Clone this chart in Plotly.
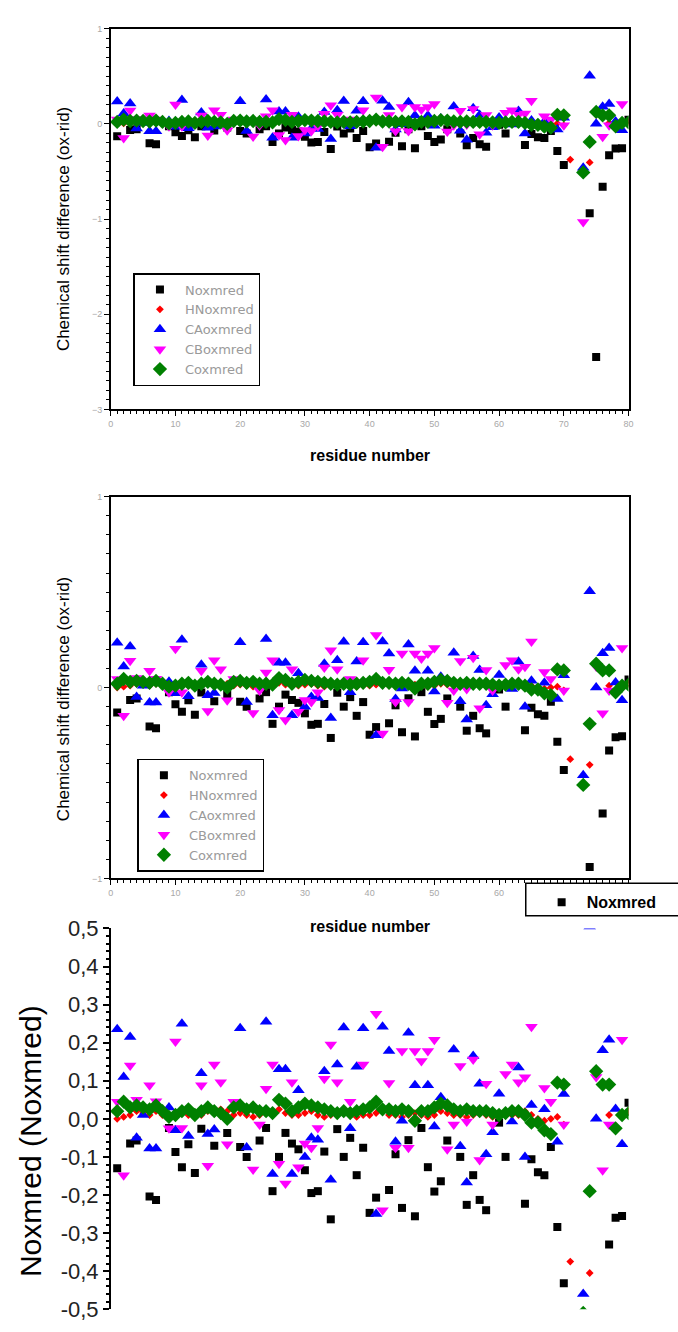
import plotly.graph_objects as go

# ---------------- data (residue 1..80) ----------------
residue = list(range(1, 81))

n_oxmred = [
    -0.13, None, -0.065, -0.057, None, -0.204, -0.213, None, -0.024, -0.087,
    -0.127, -0.067, -0.142, -0.026, None, -0.071, None, -0.037, None, -0.074,
    -0.10, None, -0.057, -0.024, -0.19, -0.10, -0.037, -0.065, -0.08, -0.135,
    -0.195, -0.19, -0.086, -0.264, -0.027, -0.10, -0.05, -0.148, -0.076, -0.247,
    -0.207, None, -0.187, -0.093, -0.234, -0.056, -0.256, -0.024, -0.127, -0.191,
    -0.164, -0.057, None, -0.10, -0.226, -0.148, -0.213, -0.24, None, -0.01,
    -0.10, None, None, -0.223, -0.106, -0.14, -0.148, -0.074, -0.284, -0.432,
    None, None, None, -0.94, -2.45, -0.66, -0.33, -0.26, -0.255, 0.042,
]

hn_oxmred = [
    0.00, 0.005, 0.01, 0.02, 0.015, 0.01, 0.02, 0.01, 0.005, 0.01,
    0.015, 0.01, 0.005, 0.01, 0.02, 0.015, 0.025, 0.02, 0.01, 0.015,
    0.01, 0.005, 0.01, 0.02, 0.02, 0.025, 0.015, 0.01, 0.01, 0.015,
    0.02, 0.01, 0.005, 0.01, 0.01, 0.015, 0.01, 0.005, 0.01, 0.01,
    0.015, 0.02, 0.01, 0.01, 0.005, 0.01, 0.015, 0.01, 0.005, 0.01,
    0.02, 0.015, 0.01, 0.01, 0.005, 0.01, 0.015, 0.01, 0.005, 0.01,
    0.015, 0.01, 0.01, 0.02, 0.01, 0.0, -0.005, 0.0, 0.005, -0.015,
    -0.375, None, None, -0.405, None, None, 0.01, None, 0.005, 0.02,
]

ca_oxmred = [
    0.235, 0.11, 0.215, -0.05, 0.01, -0.078, -0.078, None, 0.03, -0.03,
    0.25, -0.045, None, 0.12, -0.04, -0.028, None, None, None, 0.238,
    -0.075, None, None, 0.255, -0.145, 0.13, 0.13, -0.145, 0.075, -0.10,
    -0.05, -0.055, 0.125, -0.16, 0.143, 0.24, -0.025, 0.137, 0.238, None,
    -0.25, 0.242, 0.178, -0.06, -0.005, 0.226, 0.088, None, 0.088, -0.02,
    0.057, None, 0.182, -0.072, -0.167, 0.165, 0.092, -0.093, -0.035, 0.066,
    None, -0.007, 0.135, -0.10, 0.036, None, 0.025, None, -0.06, 0.065,
    None, None, -0.46, 0.505, 0.0, 0.18, 0.208, 0.026, -0.067, None,
]

cb_oxmred = [
    0.045, -0.148, 0.14, 0.05, None, 0.088, 0.046, None, -0.025, 0.203,
    -0.024, None, None, 0.088, -0.123, 0.143, 0.096, -0.067, 0.045, None,
    None, -0.133, -0.015, 0.079, 0.143, -0.118, -0.17, 0.096, -0.127, -0.065,
    -0.076, -0.024, 0.105, 0.195, 0.096, None, 0.045, None, 0.143, None,
    0.276, -0.24, 0.094, -0.076, 0.178, -0.076, 0.178, 0.152, 0.178, 0.208,
    None, -0.08, -0.015, 0.139, -0.007, 0.156, -0.108, 0.092, -0.015, None,
    0.118, 0.143, 0.096, 0.109, 0.242, None, 0.081, 0.045, None, -0.015,
    None, None, -1.03, None, 0.11, -0.135, -0.015, None, 0.208, None,
]

co_oxmred = [
    0.02, 0.045, 0.03, 0.035, 0.03, 0.025, 0.035, 0.02, 0.005, 0.01,
    0.02, 0.025, 0.01, 0.02, 0.03, 0.02, 0.015, 0.0, 0.03, 0.035,
    0.025, 0.03, 0.02, 0.02, 0.015, 0.05, 0.04, 0.02, 0.03, 0.04,
    0.035, 0.03, 0.025, 0.02, 0.015, 0.02, 0.015, 0.02, 0.025, 0.03,
    0.045, 0.025, 0.025, 0.02, 0.025, 0.02, -0.005, 0.02, 0.02, 0.03,
    0.04, 0.035, 0.025, 0.02, 0.025, 0.02, 0.02, 0.02, 0.015, 0.01,
    0.015, 0.02, 0.02, 0.01, -0.01, -0.01, -0.03, -0.04, 0.095, 0.09,
    None, None, -0.51, -0.19, 0.125, 0.09, 0.09, -0.025, 0.01, 0.015,
]

series_names = ["Noxmred", "HNoxmred", "CAoxmred", "CBoxmred", "Coxmred"]
series_values = [n_oxmred, hn_oxmred, ca_oxmred, cb_oxmred, co_oxmred]

p1_yticks = [1, 0, -1, -2, -3]
p2_yticks = [1, 0, -1]
x_ticks = [0, 10, 20, 30, 40, 50, 60, 70, 80]
x_ticktext_p1 = ["0", "10", "20", "30", "40", "50", "60", "70", "80"]
x_ticktext_p2 = ["0", "10", "20", "30", "40", "50", "60", "", ""]
p3_yticks = [0.5, 0.4, 0.3, 0.2, 0.1, 0.0, -0.1, -0.2, -0.3, -0.4, -0.5]
p3_yticktext = ["0,5", "0,4", "0,3", "0,2", "0,1", "0,0",
                "-0,1", "-0,2", "-0,3", "-0,4", "-0,5"]

# ---------------- styles ----------------
W, H = 678, 1332
FONT = "Liberation Sans"
styles = [
    dict(symbol="square", size=8, color="black"),
    dict(symbol="diamond", size=6, color="red"),
    dict(symbol="triangle-up", size=11, color="blue"),
    dict(symbol="triangle-down", size=11, color="magenta"),
    dict(symbol="diamond", size=11, color="green"),
]

def py(px):
    return 1 - px / H

def pxx(px):
    return px / W

xdom = [pxx(109), pxx(633)]

fig = go.Figure()
for panel, (xa, ya, leg) in enumerate([("x", "y", "legend"), ("x2", "y2", "legend2"), ("x3", "y3", "legend3")]):
    for i, (name, vals) in enumerate(zip(series_names, series_values)):
        st = styles[i]
        show = True if panel < 2 else (i == 0)
        fig.add_trace(go.Scatter(
            x=residue, y=vals, mode="markers", name=name,
            xaxis=xa, yaxis=ya, legend=leg, showlegend=show,
            marker=dict(symbol=st["symbol"], size=st["size"], color=st["color"],
                        line=dict(width=0)),
            cliponaxis=True,
        ))

small_tick_font = dict(family=FONT, size=9, color="#a8a8a8")

def frame_x(domain_anchor, ticktext):
    return dict(domain=xdom, range=[0, 80], anchor=domain_anchor,
                showline=True, linecolor="black", linewidth=1.5, mirror=True,
                showgrid=False, zeroline=False,
                ticks="outside", ticklen=5, tickwidth=1, tickcolor="black",
                tickvals=x_ticks, ticktext=ticktext, tickfont=small_tick_font,
                minor=dict(dtick=1, ticks="outside", ticklen=3, tickcolor="black"))

def frame_y(domain, rng, tv, anchor):
    return dict(domain=domain, range=rng, anchor=anchor,
                showline=True, linecolor="black", linewidth=1.5, mirror=True,
                showgrid=False, zeroline=False,
                ticks="outside", ticklen=5, tickwidth=1, tickcolor="black",
                tickvals=tv, tickfont=small_tick_font,
                minor=dict(dtick=0.1, ticks="outside", ticklen=3, tickcolor="black"))

legend_common = dict(
    bgcolor="white", bordercolor="black", borderwidth=1.5,
    font=dict(family="DejaVu Sans", size=13, color="#9a9a9a"),
    xanchor="left", yanchor="top", tracegroupgap=0, itemwidth=40,
)

def ann(text, x, y, size, angle=0, bold=False):
    f = dict(family=FONT, size=size, color="black")
    if bold:
        f["weight"] = "bold"
    return dict(text=text, xref="paper", yref="paper", x=pxx(x), y=py(y),
                xanchor="center", yanchor="middle", textangle=angle,
                showarrow=False, font=f)

fig.update_layout(
    width=W, height=H,
    margin=dict(l=0, r=0, t=0, b=0),
    paper_bgcolor="white", plot_bgcolor="white",
    xaxis=frame_x("y", x_ticktext_p1),
    yaxis=frame_y([py(405), py(17)], [-3, 1], p1_yticks, "x"),
    xaxis2=frame_x("y2", x_ticktext_p2),
    yaxis2=frame_y([py(883), py(494)], [-1, 1], p2_yticks, "x2"),
    xaxis3=dict(domain=xdom, range=[0, 80], anchor="y3", visible=False),
    yaxis3=dict(domain=[py(1322), py(934)], range=[-0.5, 0.5], anchor="x3",
                showline=True, linecolor="black", linewidth=1.5,
                showgrid=False, zeroline=False,
                ticks="outside", ticklen=6, tickwidth=1.5, tickcolor="black",
                tickvals=p3_yticks, ticktext=p3_yticktext,
                tickfont=dict(family=FONT, size=22, color="#222222"),
                minor=dict(dtick=0.02, ticks="outside", ticklen=3, tickcolor="black")),
    legend=dict(x=pxx(132), y=py(266), **legend_common),
    legend2=dict(x=pxx(136), y=py(761), **legend_common),
    legend3=dict(x=pxx(540), y=py(890), bgcolor="rgba(0,0,0,0)", borderwidth=0,
                 itemwidth=40,
                 font=dict(family=FONT, size=16, color="black", weight="bold"),
                 xanchor="left", yanchor="top"),
    shapes=[dict(type="rect", xref="paper", yref="paper",
                 x0=pxx(529), x1=pxx(700), y0=py(921), y1=py(888),
                 line=dict(color="black", width=1.5), fillcolor="white", layer="above")],
    annotations=[
        ann("Chemical shift difference (ox-rid)", 62, 221, 17, angle=-90),
        ann("residue number", 371, 452, 16, bold=True),
        ann("Chemical shift difference (ox-rid)", 62, 700, 17, angle=-90),
        ann("residue number", 371, 932, 16, bold=True),
        ann("Noxmred (Noxmred)", 28, 1151, 30, angle=-90),
    ],
)

fig.write_html("out.html")
